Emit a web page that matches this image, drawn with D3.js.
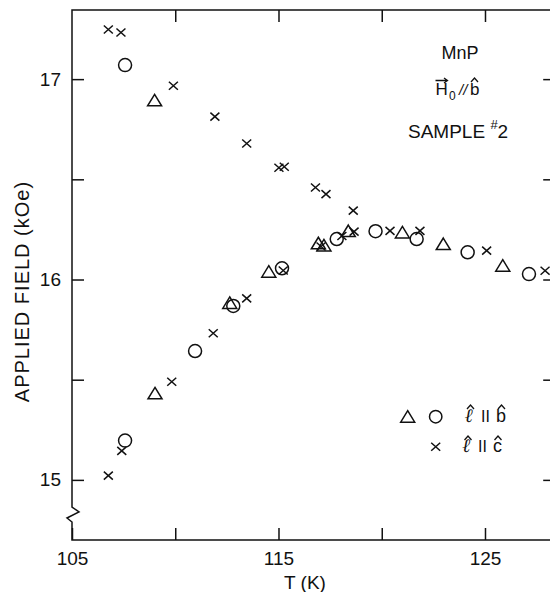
<!DOCTYPE html>
<html>
<head>
<meta charset="utf-8">
<script src="https://cdn.jsdelivr.net/npm/d3@7"></script>
<style>
  body { margin: 0; background: #fff; }
  svg { display: block; }
  text { font-family: "Liberation Sans", Arial, sans-serif; fill: #111; }
</style>
</head>
<body>
<svg id="chart" width="550" height="592"></svg>
<script>
// Values: temperature T (K) and applied field (kOe)
// l || b, first run (triangles)
const triT = [109.0, 109.02, 112.64, 114.53, 116.93, 117.2, 118.38, 121.0, 122.98, 125.86];
const triH = [16.894, 15.432, 15.883, 16.039, 16.181, 16.17, 16.242, 16.235, 16.177, 16.069];
// l || b, second run (circles)
const circT = [107.57, 107.57, 110.96, 112.81, 115.17, 117.82, 119.7, 121.69, 124.16, 127.13];
const circH = [17.07, 15.196, 15.643, 15.868, 16.056, 16.202, 16.241, 16.202, 16.136, 16.027];
// l || c (crosses)
const crossT = [106.76, 107.37, 109.91, 111.92, 113.46, 115.02, 115.28, 116.79, 117.3, 118.62, 118.66, 118.07,
                117.06, 115.23, 113.46, 111.84, 109.83, 107.41, 106.76, 120.4, 121.85, 125.08, 127.91];
const crossH = [17.248, 17.233, 16.967, 16.813, 16.679, 16.558, 16.563, 16.459, 16.426, 16.344, 16.239, 16.217,
                16.165, 16.045, 15.906, 15.732, 15.49, 15.145, 15.021, 16.243, 16.243, 16.144, 16.044];

const xTicks = [105, 110, 115, 120, 125];
const xLabels = [105, 115, 125];
const yTicks = [15, 15.5, 16, 16.5, 17];
const yLabels = [15, 16, 17];

const svg = d3.select('#chart');

const plotLeft = 72, plotTop = 10, plotBottom = 540;
const x = d3.scaleLinear().domain([105, 128.4]).range([plotLeft, 555.2]);
const y = d3.scaleLinear().domain([14.7, 17.345]).range([plotBottom, plotTop]);
const plotRight = x(128.4);

// frame, with the little break on the left axis
svg.append('path')
  .attr('fill', 'none')
  .attr('stroke', '#111')
  .attr('stroke-width', 1.5)
  .attr('d', `M${plotLeft},${plotTop} V507 L79,512 L67,518 L${plotLeft},522 V${plotBottom} H${plotRight} V${plotTop} Z`);

function styleAxis(g) {
  g.select('.domain').remove();
  g.selectAll('.tick line').attr('stroke', '#111').attr('stroke-width', 1.5);
  g.selectAll('.tick text')
    .style('font-family', '"Liberation Sans", Arial, sans-serif')
    .style('font-size', '19px')
    .attr('fill', '#111');
}

svg.append('g')
  .attr('transform', `translate(0,${plotBottom})`)
  .call(d3.axisBottom(x).tickValues(xTicks).tickSize(-12).tickPadding(12)
    .tickFormat(d => xLabels.includes(d) ? d : ''))
  .call(styleAxis);

svg.append('g')
  .attr('transform', `translate(0,${plotTop})`)
  .call(d3.axisTop(x).tickValues(xTicks.slice(1)).tickSize(-12).tickFormat(''))
  .call(styleAxis);

svg.append('g')
  .attr('transform', `translate(${plotLeft},0)`)
  .call(d3.axisLeft(y).tickValues(yTicks).tickSize(-12).tickPadding(11)
    .tickFormat(d => yLabels.includes(d) ? d : ''))
  .call(styleAxis);

svg.append('g')
  .attr('transform', `translate(${plotRight},0)`)
  .call(d3.axisRight(y).tickValues(yTicks).tickSize(-12).tickFormat(''))
  .call(styleAxis);

// axis titles
svg.append('text')
  .attr('transform', `translate(29,${y(15.94)}) rotate(-90)`)
  .attr('text-anchor', 'middle')
  .style('font-size', '20px')
  .style('letter-spacing', '1px')
  .text('APPLIED FIELD (kOe)');

svg.append('text')
  .attr('x', 305)
  .attr('y', 589)
  .attr('text-anchor', 'middle')
  .style('font-size', '19px')
  .text('T (K)');

// markers
const triPath = 'M0,-6 L7,5.5 L-7,5.5 Z';
const crossPath = 'M-4.5,-4 L4.5,4 M-4.5,4 L4.5,-4';

const marks = svg.append('g')
  .attr('fill', 'none')
  .attr('stroke', '#111')
  .attr('stroke-width', 1.5);

marks.selectAll('path.tri')
  .data(d3.zip(triT, triH))
  .join('path')
  .attr('class', 'tri')
  .attr('d', triPath)
  .attr('transform', d => `translate(${x(d[0])},${y(d[1])})`);

marks.selectAll('circle.circ')
  .data(d3.zip(circT, circH))
  .join('circle')
  .attr('class', 'circ')
  .attr('r', 6.5)
  .attr('cx', d => x(d[0]))
  .attr('cy', d => y(d[1]));

marks.selectAll('path.cross')
  .data(d3.zip(crossT, crossH))
  .join('path')
  .attr('class', 'cross')
  .attr('d', crossPath)
  .attr('transform', d => `translate(${x(d[0])},${y(d[1])})`);

// annotation, top right
const hat = 'M-3.5,2 L0,-2 L3.5,2';

svg.append('text').attr('x', 460).attr('y', 59).attr('text-anchor', 'middle')
  .style('font-size', '18px').text('MnP');

svg.append('text').attr('x', 435.5).attr('y', 95).style('font-size', '17px').text('H');
svg.append('text').attr('x', 449).attr('y', 100).style('font-size', '12px').text('0');
svg.append('text').attr('x', 459).attr('y', 95).style('font-size', '15px').style('font-style', 'italic').text('//');
svg.append('text').attr('x', 470).attr('y', 95).style('font-size', '17px').text('b');
svg.append('path').attr('d', 'M435.5,80.5 H447 M444,78 L447.5,80.5 L444,83')
  .attr('fill', 'none').attr('stroke', '#111').attr('stroke-width', 1.3);
svg.append('path').attr('d', hat).attr('transform', 'translate(474.5,80)')
  .attr('fill', 'none').attr('stroke', '#111').attr('stroke-width', 1.3);

const sample = svg.append('text').attr('x', 408).attr('y', 138).style('font-size', '19px');
sample.append('tspan').text('SAMPLE ');
sample.append('tspan').attr('dy', -9).style('font-size', '13px').text('#');
sample.append('tspan').attr('dy', 9).text('2');

// legend
const legend = svg.append('g')
  .attr('fill', 'none')
  .attr('stroke', '#111')
  .attr('stroke-width', 1.5);
legend.append('path').attr('d', triPath).attr('transform', 'translate(407.7,416.7)');
legend.append('circle').attr('r', 6.2).attr('cx', 435.7).attr('cy', 416.7);
legend.append('path').attr('d', crossPath).attr('transform', 'translate(435.7,446.7)');

const legendRows = [
  { base: 422, ell: 465, bars: 481, letter: 496, name: 'b', hatEll: 470.5, hatLetter: 501.5, hatY: 407 },
  { base: 452, ell: 462.5, bars: 478, letter: 493, name: 'c', hatEll: 468, hatLetter: 498, hatY: 438 }
];
legendRows.forEach(r => {
  svg.append('text').attr('x', r.ell).attr('y', r.base)
    .style('font-family', '"DejaVu Serif", serif')
    .style('font-size', '19px').style('font-style', 'italic').style('font-weight', 'bold').text('ℓ');
  svg.append('text').attr('x', r.bars).attr('y', r.base).style('font-size', '16px').text('II');
  svg.append('text').attr('x', r.letter).attr('y', r.base).style('font-size', '18px').text(r.name);
  legend.append('path').attr('d', hat).attr('transform', `translate(${r.hatEll},${r.hatY})`).attr('stroke-width', 1.3);
  legend.append('path').attr('d', hat).attr('transform', `translate(${r.hatLetter},${r.hatY})`).attr('stroke-width', 1.3);
});
</script>
</body>
</html>
